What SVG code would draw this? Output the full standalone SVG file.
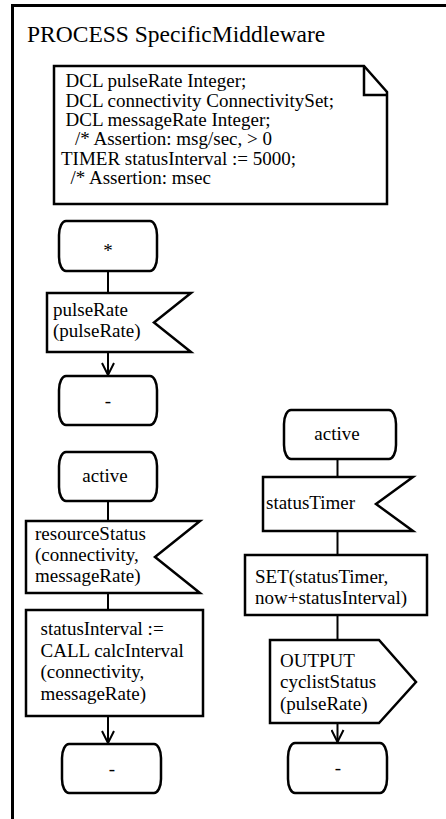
<svg xmlns="http://www.w3.org/2000/svg" width="446" height="819" viewBox="0 0 446 819">
<style>
  text { font-family: 'Liberation Serif', 'Times New Roman', serif; font-size: 19px; fill: #000; }
  .title { font-size: 23.5px; }
  .mid { text-anchor: middle; }
  .shape { fill: #fff; stroke: #000; stroke-width: 2.5; stroke-linejoin: miter; }
  .conn { fill: none; stroke: #000; stroke-width: 2; }
</style>
<defs>
  <marker id="arrow" viewBox="-13 -7 14 14" refX="0" refY="0" markerWidth="14" markerHeight="14" markerUnits="userSpaceOnUse" orient="auto">
    <path d="M-12,-6 L0,0 L-12,6" fill="none" stroke="#000" stroke-width="2"/>
  </marker>
</defs>
<rect width="446" height="819" fill="#fff"/>
<g id="frame">
  <path d="M12.5,819 V5.5 H446" fill="none" stroke="#000" stroke-width="3"/>
  <text class="title" x="27" y="42">PROCESS SpecificMiddleware</text>
</g>
<g id="declarations">
  <path class="shape" d="M54,66 H364 L387,92 V204 H54 Z"/>
  <path d="M364,66 V95 H387" fill="none" stroke="#000" stroke-width="2.5"/>
  <text x="65.5" y="87.3">DCL pulseRate Integer;</text>
  <text x="65.5" y="106.6">DCL connectivity ConnectivitySet;</text>
  <text x="65.5" y="125.9">DCL messageRate Integer;</text>
  <text x="75" y="145.2">/* Assertion: msg/sec, &gt; 0</text>
  <text x="61" y="164.5">TIMER statusInterval := 5000;</text>
  <text x="70.5" y="183.8">/* Assertion: msec</text>
</g>
<g id="connectors">
  <path class="conn" d="M108,271 V293"/>
  <path class="conn" d="M108,352 V375" marker-end="url(#arrow)"/>
  <path class="conn" d="M108,501 V521"/>
  <path class="conn" d="M108,593 V610"/>
  <path class="conn" d="M108,716 V743" marker-end="url(#arrow)"/>
  <path class="conn" d="M337.5,459 V477"/>
  <path class="conn" d="M337.5,531 V555"/>
  <path class="conn" d="M337.5,615 V640"/>
  <path class="conn" d="M337.5,723 V742" marker-end="url(#arrow)"/>
</g>
<g id="start">
  <rect class="shape" x="59" y="221" width="98" height="50" rx="7" ry="14"/>
  <text class="mid" x="108" y="257">*</text>
</g>
<g id="input-pulseRate">
  <path class="shape" d="M47,293 H191 L154,322.5 L191,352 H47 Z"/>
  <text x="53" y="316">pulseRate</text>
  <text x="53" y="337">(pulseRate)</text>
</g>
<g id="nextstate-1">
  <rect class="shape" x="59" y="376" width="98" height="49" rx="7" ry="14"/>
  <text class="mid" x="108" y="407">-</text>
</g>
<g id="state-active-1">
  <rect class="shape" x="59" y="452" width="98" height="49" rx="7" ry="14"/>
  <text class="mid" x="105" y="482">active</text>
</g>
<g id="input-resourceStatus">
  <path class="shape" d="M26,521 H200 L155,557 L200,593 H26 Z"/>
  <text x="35" y="540">resourceStatus</text>
  <text x="35" y="561">(connectivity,</text>
  <text x="35" y="582">messageRate)</text>
</g>
<g id="task-calcInterval">
  <rect class="shape" x="26" y="610" width="177" height="106"/>
  <text x="40.5" y="635">statusInterval :=</text>
  <text x="40.5" y="656.5">CALL calcInterval</text>
  <text x="40.5" y="678">(connectivity,</text>
  <text x="40.5" y="699.5">messageRate)</text>
</g>
<g id="nextstate-2">
  <rect class="shape" x="62" y="744" width="99" height="49" rx="7" ry="14"/>
  <text class="mid" x="112" y="775">-</text>
</g>
<g id="state-active-2">
  <rect class="shape" x="284" y="410" width="112" height="49" rx="7" ry="14"/>
  <text class="mid" x="337" y="440">active</text>
</g>
<g id="input-statusTimer">
  <path class="shape" d="M263,477 H413 L376,504 L413,531 H263 Z"/>
  <text x="266" y="509">statusTimer</text>
</g>
<g id="task-set">
  <rect class="shape" x="245" y="555" width="182" height="60"/>
  <text x="255" y="583">SET(statusTimer,</text>
  <text x="255" y="604">now+statusInterval)</text>
</g>
<g id="output-cyclistStatus">
  <path class="shape" d="M270,640 H379 L416,682 L379,723 H270 Z"/>
  <text x="280" y="666.5">OUTPUT</text>
  <text x="280" y="688">cyclistStatus</text>
  <text x="280" y="709.5">(pulseRate)</text>
</g>
<g id="nextstate-3">
  <rect class="shape" x="288" y="743" width="99" height="50" rx="7" ry="14"/>
  <text class="mid" x="338" y="774">-</text>
</g>
</svg>
